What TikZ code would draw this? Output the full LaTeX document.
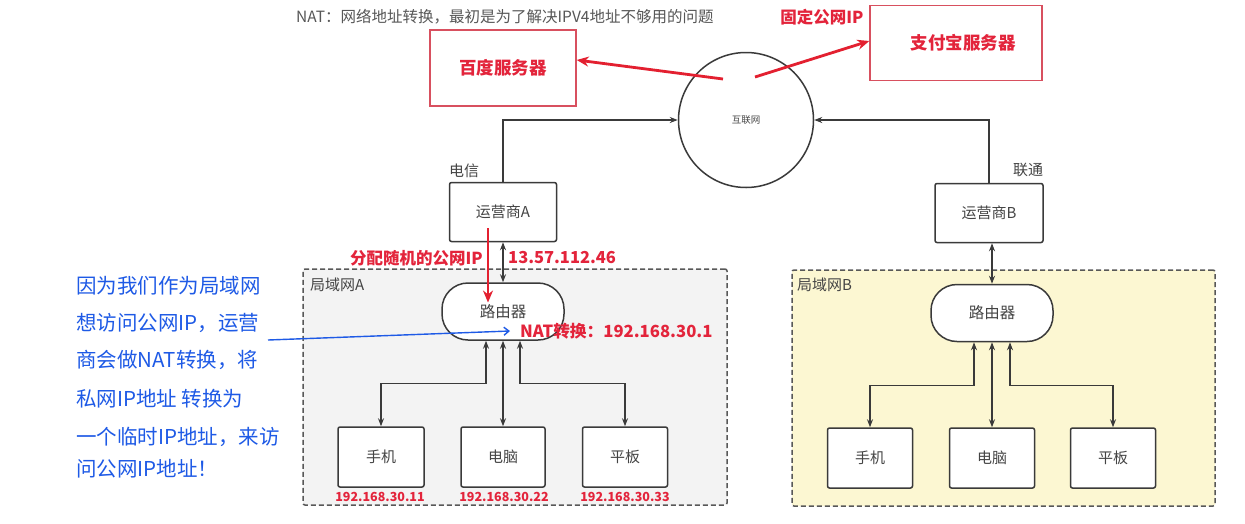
\documentclass[tikz,border=0pt]{standalone}
\usepackage{fontspec}
\setmainfont{Noto Sans CJK SC}
\usetikzlibrary{arrows.meta}
\definecolor{txtgray}{HTML}{444444}
\definecolor{edgegray}{HTML}{3A3A3A}
\definecolor{redtxt}{HTML}{E3243B}
\definecolor{redline}{HTML}{E32030}
\definecolor{redbox}{HTML}{D8505F}
\definecolor{lanAfill}{HTML}{F3F3F3}
\definecolor{lanBfill}{HTML}{FCF7D2}
\definecolor{inkblue}{HTML}{1E5AE6}
\newcommand{\fsz}[1]{\fontsize{#1}{#1}\selectfont}
\begin{document}
\begin{tikzpicture}[x=1pt,y=-1pt,
  devbox/.style={draw=edgegray, line width=1.5pt, fill=white, rounded corners=2pt,
    inner sep=0pt, text=txtgray, font=\fsz{15}},
  routerbox/.style={draw=edgegray, line width=1.5pt, fill=white, rounded corners=26pt,
    inner sep=0pt, minimum width=122pt, minimum height=57pt, text=txtgray, font=\fsz{15.5}},
  serverbox/.style={draw=redbox, line width=1.4pt, fill=white, inner sep=0pt,
    text=redtxt, font=\fsz{17.5}\bfseries},
  lanbox/.style={draw=edgegray!85, line width=1.5pt, dash pattern=on 5pt off 3pt,
    rounded corners=2pt, inner sep=0pt},
  plain/.style={text=txtgray, inner sep=0pt},
  redlabel/.style={text=redtxt, inner sep=0pt, font=\fsz{16.5}\bfseries},
  iplabel/.style={text=redtxt, inner sep=0pt, font=\fsz{12.5}\bfseries},
  ink/.style={text=inkblue, inner sep=0pt, anchor=west, font=\fsz{20.5}},
  link/.style={draw=edgegray, line width=1.3pt, -{Stealth[length=8pt,width=6pt]}},
  dlink/.style={draw=edgegray, line width=1.3pt, {Stealth[length=8pt,width=6pt]}-{Stealth[length=8pt,width=6pt]}},
  redarrow/.style={draw=redline, line width=2.8pt, -{Stealth[length=12pt,width=10pt]}}]
\useasboundingbox (0,0) rectangle (1245,523);
\fill[white] (0,0) rectangle (1245,523);

% local networks
\node[lanbox, fill=lanAfill, minimum width=424pt, minimum height=236pt] (lanA) at (515,387) {};
\node[lanbox, fill=lanBfill, minimum width=423pt, minimum height=236pt] (lanB) at (1003.5,388) {};
\node[plain, anchor=west, font=\fsz{15}] (lanAname) at (310,285) {局域网A};
\node[plain, anchor=west, font=\fsz{15}] (lanBname) at (797,285) {局域网B};

% title
\node[text=txtgray!90, inner sep=0pt, anchor=west, font=\fsz{15.5}] (title) at (296,17)
  {NAT：网络地址转换，最初是为了解决IPV4地址不够用的问题};

% servers and internet
\node[serverbox, minimum width=146pt, minimum height=76pt] (baidu) at (503,68) {百度服务器};
\node[serverbox, minimum width=172pt, minimum height=75pt] (alipay) at (956,43) {\hspace*{14pt}支付宝服务器};
\node[redlabel] (fixedip) at (822,17) {固定公网IP};
\node[draw=edgegray, line width=1.5pt, fill=white, circle, minimum size=135pt, inner sep=0pt,
  text=txtgray, font=\fsz{9.5}] (net) at (746,120) {互联网};

\coordinate (netL) at (723,79);
\coordinate (netR) at (755,77);
\draw[redarrow] (netL) -- (baidu.east |- 0,60);
\draw[redarrow] (netR) -- (alipay.west |- 0,41);

% carriers
\node[devbox, minimum width=107pt, minimum height=59pt] (ispA) at (503,212) {运营商A};
\node[devbox, minimum width=108pt, minimum height=59pt] (ispB) at (989,213) {运营商B};
\node[plain, font=\fsz{15}] (ctel) at (464,171) {电信};
\node[plain, font=\fsz{15}] (cuni) at (1028,170) {联通};
\draw[link] (ispA.north) |- (net.west);
\draw[link] (ispB.north) |- (net.east);

% routers
\node[routerbox] (rA) at (503,311.5) {路由器};
\node[routerbox] (rB) at (992,313) {路由器};
\draw[dlink] (ispA.south) -- (rA.north);
\draw[dlink] (ispB.south -| rB.north) -- (rB.north);

% public address assignment
\draw[redarrow] ([xshift=-15pt,yshift=14pt]ispA.south) -- ([xshift=-15pt,yshift=9pt]rA.center);
\node[redlabel, anchor=east] (assign) at (483,258) {分配随机的公网IP};
\node[redlabel, anchor=west, font=\fsz{16.5}\bfseries] (pubip) at (508,258) {13.57.112.46};
\node[redlabel, anchor=west, font=\fsz{16.7}\bfseries] (natip) at (520,331) {NAT转换：192.168.30.1};

% devices, network A
\node[devbox, minimum width=86pt, minimum height=60pt] (a1) at (381,457) {手机};
\node[devbox, minimum width=84pt, minimum height=60pt] (a2) at (503,457) {电脑};
\node[devbox, minimum width=85pt, minimum height=60pt] (a3) at (625,457) {平板};
\draw[dlink] ([xshift=-17pt]rA.south) -- ++(0,43) -| (a1.north);
\draw[dlink] (rA.south) -- (a2.north);
\draw[dlink] ([xshift=17pt]rA.south) -- ++(0,43) -| (a3.north);
\node[iplabel] (ip1) at (380,497) {192.168.30.11};
\node[iplabel] (ip2) at (504,497) {192.168.30.22};
\node[iplabel] (ip3) at (625,497) {192.168.30.33};

% devices, network B
\node[devbox, minimum width=85pt, minimum height=60pt] (b1) at (870,458) {手机};
\node[devbox, minimum width=85pt, minimum height=60pt] (b2) at (992,458) {电脑};
\node[devbox, minimum width=85pt, minimum height=60pt] (b3) at (1113,458) {平板};
\draw[dlink] ([xshift=-18pt]rB.south) -- ++(0,43) -| (b1.north);
\draw[dlink] (rB.south) -- (b2.north);
\draw[dlink] ([xshift=18pt]rB.south) -- ++(0,43) -| (b3.north);

% handwritten note
\node[ink] (n1) at (76,286) {因为我们作为局域网};
\node[ink] (n2) at (76,323) {想访问公网IP，运营};
\node[ink] (n3) at (76,360) {商会做NAT转换，将};
\node[ink] (n4) at (76,399) {私网IP地址 转换为};
\node[ink] (n5) at (76,437) {一个临时IP地址，来访};
\node[ink] (n6) at (76,469) {问公网IP地址！};
\coordinate (noteend) at (268,340);
\coordinate (natpoint) at (510,331);
\draw[inkblue, line width=1.4pt, -{Straight Barb[length=5pt,width=8pt]}] (noteend) -- (natpoint);
\end{tikzpicture}
\end{document}
